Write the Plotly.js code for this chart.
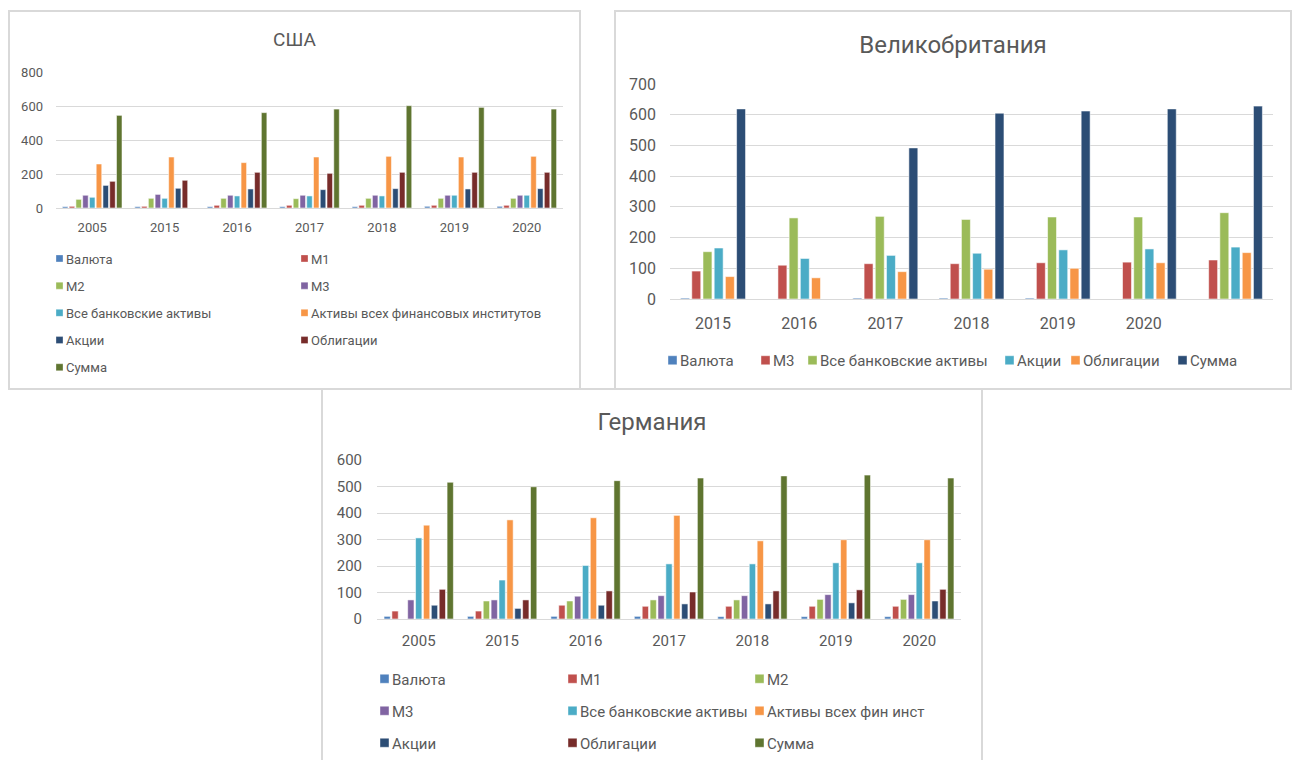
<!DOCTYPE html>
<html>
<head>
<meta charset="utf-8">
<script src="https://cdn.plot.ly/plotly-3.0.1.min.js"></script>
<style>
  html, body { margin: 0; padding: 0; background: #ffffff; }
  body { width: 1294px; height: 760px; overflow: hidden; position: relative; }
  .box { position: absolute; border: 2px solid #d9d9d9; box-sizing: border-box; background: #ffffff; }
  .plot { position: absolute; left: 0; top: 0; }
</style>
</head>
<body>
<div class="box" style="left:8px;top:10px;width:573px;height:380px"><div id="usa" class="plot"></div></div>
<div class="box" style="left:614px;top:10px;width:678px;height:380px"><div id="uk" class="plot"></div></div>
<div class="box" style="left:321px;top:388px;width:662px;height:380px"><div id="de" class="plot"></div></div>
<script>
// ---------- США ----------
const usaYears = ['2005', '2015', '2016', '2017', '2018', '2019', '2020'];
const usaNames = ['Валюта', 'М1', 'М2', 'М3', 'Все банковские активы',
  'Активы всех финансовых институтов', 'Акции', 'Облигации', 'Сумма'];
const usaValuta = [8, 8, 8, 8, 8, 10, 10];
const usaM1 = [10, 10, 16, 16, 16, 16, 16];
const usaM2 = [51, 57, 57, 55, 57, 57, 57];
const usaM3 = [75, 80, 75, 75, 75, 75, 75];
const usaBank = [63, 57, 71, 71, 71, 75, 75];
const usaFin = [259, 300, 267, 300, 304, 300, 304];
const usaStocks = [133, 116, 112, 108, 114, 112, 114];
const usaBonds = [157, 163, 210, 204, 210, 210, 210];
const usaSum = [545, null, 561, 582, 602, 592, 582];

// ---------- Великобритания ----------
const ukYears = ['2015', '2016', '2017', '2018', '2019', '2020', ' '];
const ukNames = ['Валюта', 'М3', 'Все банковские активы', 'Акции', 'Облигации', 'Сумма'];
const ukValuta = [3, null, 3, 3, 3, null, null];
const ukM3 = [91, 110, 115, 115, 118, 120, 127];
const ukBank = [154, 264, 269, 259, 267, 267, 281];
const ukStocks = [166, 132, 142, 149, 160, 163, 169];
const ukBonds = [73, 69, 89, 97, 100, 118, 151];
const ukSum = [619, null, 492, 605, 612, 619, 628];

// ---------- Германия ----------
const deYears = ['2005', '2015', '2016', '2017', '2018', '2019', '2020'];
const deNames = ['Валюта', 'М1', 'М2', 'М3', 'Все банковские активы',
  'Активы всех фин инст', 'Акции', 'Облигации', 'Сумма'];
const deValuta = [10, 10, 10, 10, 9, 9, 9];
const deM1 = [30, 30, 52, 48, 48, 48, 48];
const deM2 = [null, 68, 68, 72, 72, 74, 74];
const deM3 = [72, 72, 86, 88, 88, 92, 92];
const deBank = [306, 147, 202, 208, 208, 212, 212];
const deFin = [354, 374, 382, 391, 295, 299, 299];
const deStocks = [52, 40, 52, 57, 57, 61, 68];
const deBonds = [112, 72, 106, 102, 106, 110, 112];
const deSum = [516, 499, 522, 532, 540, 543, 532];

// Office palette
const nineColors = ['#4F81BD', '#C0504D', '#9BBB59', '#8064A2', '#4BACC6',
  '#F79646', '#2C4D75', '#772C2A', '#5F7530'];
const sixColors = ['#4F81BD', '#C0504D', '#9BBB59', '#4BACC6', '#F79646', '#2C4D75'];

const FONT = 'Roboto, "Liberation Sans", sans-serif';
const TEXT = '#595959';
const GRID = '#d9d9d9';

// shrinks the legend swatches and moves each one next to its label
// (label class is legendtext, legend2text, ... depending on the legend box)
function tightenLegend(gd, size, gap) {
  gd.querySelectorAll('g.traces').forEach(tr => {
    const pts = tr.querySelector('g.legendpoints');
    const txt = tr.querySelector('text');
    if (!pts || !txt) return;
    const orig = pts.getAttribute('data-orig');
    const base = orig !== null ? orig : (pts.getAttribute('transform') || '');
    pts.setAttribute('data-orig', base);
    pts.setAttribute('transform', base);
    const pr = pts.getBoundingClientRect();
    const tb = txt.getBoundingClientRect();
    if (!pr.width) return;
    const b = pts.getBBox();
    const s = size / pr.width;
    const cx = b.x + b.width / 2, cy = b.y + b.height / 2;
    const dx = (tb.left - gap - size / 2) - (pr.left + pr.width / 2);
    pts.setAttribute('transform',
      base + ' translate(' + (cx + dx) + ',' + cy + ') scale(' + s + ') translate(' + (-cx) + ',' + (-cy) + ')');
  });
}

// builds one clustered bar chart; legendCol maps each trace to a legend box
function drawChart(id, cfg) {
  const W = cfg.width, H = cfg.height;
  const traces = cfg.series.map((vals, i) => {
    const col = cfg.legendCol(i);
    return {
      type: 'bar',
      name: cfg.names[i],
      x: cfg.cats,
      y: vals,
      marker: { color: cfg.colors[i], line: { color: 'rgba(255,255,255,0.55)', width: 1 } },
      legend: col === 0 ? 'legend' : 'legend' + (col + 1),
      legendgroup: 'g' + i,
      hoverinfo: 'name+y'
    };
  });

  const layout = {
    width: W,
    height: H,
    paper_bgcolor: '#ffffff',
    plot_bgcolor: '#ffffff',
    font: { family: FONT, color: TEXT, size: cfg.tickSize },
    margin: Object.assign({ pad: 0, autoexpand: false }, cfg.margin),
    barmode: 'group',
    bargap: cfg.bargap,
    bargroupgap: cfg.bargroupgap,
    title: {
      text: cfg.title,
      font: { family: FONT, size: cfg.titleSize, color: TEXT },
      x: 0.5, xref: 'container', xanchor: 'center',
      y: 1 - cfg.titleY / H, yref: 'container', yanchor: 'middle'
    },
    xaxis: {
      type: 'category',
      showgrid: false,
      showline: true,
      linecolor: GRID,
      linewidth: 1,
      ticks: '',
      tickfont: { size: cfg.tickSize, color: TEXT },
      ticklabelstandoff: cfg.xStandoff,
      automargin: false,
      fixedrange: true
    },
    yaxis: {
      range: cfg.yRange,
      dtick: cfg.dtick,
      showgrid: true,
      gridcolor: GRID,
      gridwidth: 1,
      zeroline: false,
      showline: false,
      ticks: '',
      tickfont: { size: cfg.tickSize, color: TEXT },
      ticklabelstandoff: cfg.yStandoff,
      automargin: false,
      fixedrange: true
    },
    showlegend: true
  };

  cfg.legends.forEach((lg, k) => {
    const key = k === 0 ? 'legend' : 'legend' + (k + 1);
    layout[key] = {
      orientation: 'v',
      xref: 'container', yref: 'container',
      x: lg.x / W, xanchor: 'left',
      y: 1 - lg.y / H, yanchor: 'top',
      font: { family: FONT, size: cfg.legendSize, color: TEXT },
      tracegroupgap: cfg.legendGap,
      traceorder: 'grouped',
      bgcolor: 'rgba(0,0,0,0)',
      borderwidth: 0,
      itemclick: false,
      itemdoubleclick: false
    };
  });

  const gd = document.getElementById(id);
  const tidy = () => tightenLegend(gd, cfg.swatch, cfg.swatchGap);
  return Plotly.newPlot(gd, traces, layout, { displayModeBar: false }).then(() => {
    tidy();
    gd.on('plotly_afterplot', tidy);
  });
}

drawChart('usa', {
  width: 569, height: 376,
  cats: usaYears,
  names: usaNames,
  series: [usaValuta, usaM1, usaM2, usaM3, usaBank, usaFin, usaStocks, usaBonds, usaSum],
  colors: nineColors,
  title: 'США', titleSize: 19, titleY: 27.5,
  tickSize: 13, legendSize: 13,
  margin: { l: 46, r: 16, t: 60, b: 180 },
  yRange: [0, 800], dtick: 200,
  bargap: 0.16, bargroupgap: 0.18,
  xStandoff: 7, yStandoff: 12,
  legendCol: i => i % 2,
  legendGap: 7.3,
  swatch: 7, swatchGap: 3,
  legends: [
    { x: 16, y: 231.5 },
    { x: 261, y: 231.5 }
  ]
});

drawChart('uk', {
  width: 674, height: 376,
  cats: ukYears,
  names: ukNames,
  series: [ukValuta, ukM3, ukBank, ukStocks, ukBonds, ukSum],
  colors: sixColors,
  title: 'Великобритания', titleSize: 24, titleY: 33,
  tickSize: 16, legendSize: 15,
  margin: { l: 54, r: 17, t: 72, b: 89 },
  yRange: [0, 700], dtick: 100,
  bargap: 0.22, bargroupgap: 0.2,
  xStandoff: 10, yStandoff: 13,
  legendCol: i => i,
  legendGap: 0,
  swatch: 9, swatchGap: 3,
  legends: [
    { x: 24, y: 332 },
    { x: 117, y: 332 },
    { x: 164, y: 332 },
    { x: 361, y: 332 },
    { x: 427, y: 332 },
    { x: 534, y: 332 }
  ]
});

drawChart('de', {
  width: 658, height: 370,
  cats: deYears,
  names: deNames,
  series: [deValuta, deM1, deM2, deM3, deBank, deFin, deStocks, deBonds, deSum],
  colors: nineColors,
  title: 'Германия', titleSize: 24, titleY: 32,
  tickSize: 15, legendSize: 15,
  margin: { l: 54, r: 20, t: 70, b: 141 },
  yRange: [0, 600], dtick: 100,
  bargap: 0.15, bargroupgap: 0.2,
  xStandoff: 8, yStandoff: 14,
  legendCol: i => i % 3,
  legendGap: 9.5,
  swatch: 9, swatchGap: 3,
  legends: [
    { x: 29, y: 272.5 },
    { x: 217, y: 272.5 },
    { x: 404, y: 272.5 }
  ]
});
</script>
</body>
</html>
